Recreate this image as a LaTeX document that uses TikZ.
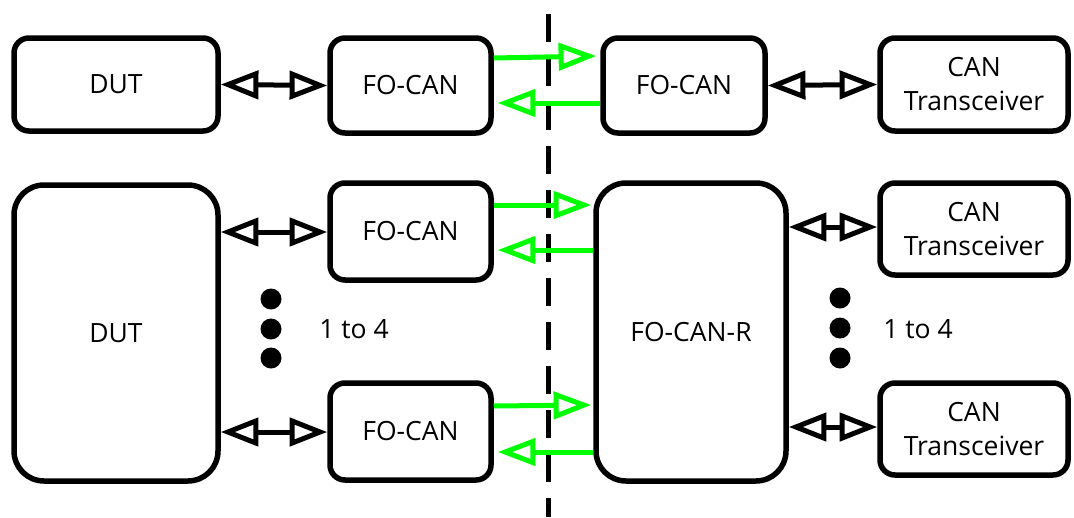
\documentclass[tikz,border=0pt]{standalone}
\usepackage{fontspec}
\setmainfont{Open Sans}
\usetikzlibrary{arrows.meta}
\definecolor{fgreen}{RGB}{0,255,0}
\tikzset{
  box/.style={draw=black, line width=5.5pt, rounded corners=15pt, align=center, inner sep=0pt, font=\fontsize{26.5}{34}\selectfont},
  bigbox/.style={box, rounded corners=30pt},
  btip/.tip={Triangle[open,scale length=2.1,scale width=1.35]},
  gtip/.tip={Triangle[open,scale length=2.1,scale width=1.3]},
  blk/.style={line width=5pt, btip-btip},
  grn/.style={draw=fgreen, line width=5pt, -gtip},
  dot/.style={circle, fill=black, minimum size=21pt, inner sep=0pt},
  lbl/.style={font=\fontsize{26.5}{34}\selectfont, inner sep=0pt}
}
\begin{document}
\begin{tikzpicture}[x=1pt,y=1pt,yscale=-1]
\useasboundingbox (0,0) rectangle (1074,517);
% dashed divider
\coordinate (dtop) at (548,14);
\coordinate (dbot) at (548,517);
\draw[line width=5pt, dash pattern=on 28pt off 16pt] (dtop) -- (dbot);
% top row
\node[box, minimum width=204pt, minimum height=93pt] (dut1) at (116,84.5) {DUT};
\node[box, minimum width=161pt, minimum height=95pt] (fc1) at (410.5,85.5) {FO-CAN};
\node[box, minimum width=162pt, minimum height=95pt] (fc2) at (684,85.5) {FO-CAN};
\node[box, minimum width=188pt, minimum height=93pt] (ct1) at (974,84.5) {CAN\\Transceiver};
% bottom
\node[bigbox, minimum width=204pt, minimum height=296pt] (dut2) at (116,333) {DUT};
\node[box, minimum width=161pt, minimum height=97pt] (fc3) at (410.5,231.5) {FO-CAN};
\node[box, minimum width=161pt, minimum height=97pt] (fc4) at (410.5,431.5) {FO-CAN};
\node[bigbox, minimum width=190pt, minimum height=298pt] (fcr) at (691,332) {FO-CAN-R};
\node[box, minimum width=188pt, minimum height=92pt] (ct2) at (974,229) {CAN\\Transceiver};
\node[box, minimum width=188pt, minimum height=92pt] (ct3) at (974,429) {CAN\\Transceiver};
% dots and labels
\node[dot] (d1) at (271,299) {};
\node[dot] (d2) at (271,329) {};
\node[dot] (d3) at (271,358) {};
\node[dot] (d4) at (840,298) {};
\node[dot] (d5) at (840,328) {};
\node[dot] (d6) at (840,358) {};
\node[lbl] (l1) at (354,329) {1 to 4};
\node[lbl] (l2) at (918,329) {1 to 4};
% black connectors
\draw[blk] (dut1.east) -- (fc1.west);
\draw[blk] (fc2.east) -- (ct1.west);
\draw[blk] (dut2.east |- 0,232) -- (fc3.west |- 0,232);
\draw[blk] (dut2.east |- 0,432) -- (fc4.west |- 0,432);
\draw[blk] (fcr.east |- 0,227) -- (ct2.west |- 0,227);
\draw[blk] (fcr.east |- 0,427) -- (ct3.west |- 0,427);
% green connectors
\draw[grn] (fc1.east |- 0,58) -- ([xshift=-4pt]fc2.west |- 0,56);
\draw[grn] (fc2.west |- 0,103) -- ([xshift=4pt]fc1.east |- 0,103);
\draw[grn] (fc3.east |- 0,205) -- ([xshift=-2pt]fcr.west |- 0,205);
\draw[grn] (fcr.west |- 0,250) -- ([xshift=4pt]fc3.east |- 0,250);
\draw[grn] (fc4.east |- 0,406) -- ([xshift=-2pt]fcr.west |- 0,405);
\draw[grn] (fcr.west |- 0,452) -- ([xshift=4pt]fc4.east |- 0,452);
\end{tikzpicture}
\end{document}
